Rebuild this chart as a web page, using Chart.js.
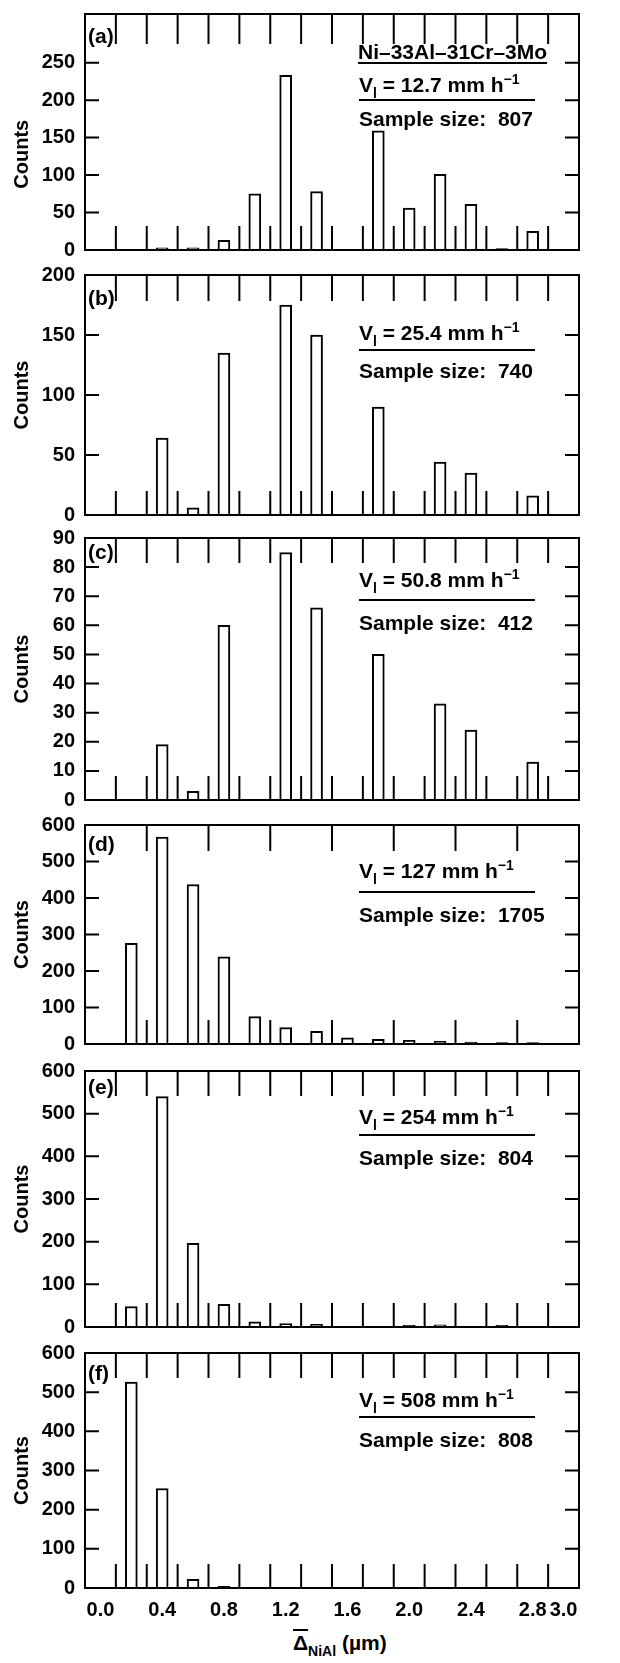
<!DOCTYPE html>
<html>
<head>
<meta charset="utf-8">
<script src="https://cdn.jsdelivr.net/npm/chart.js@4.4.1/dist/chart.umd.min.js"></script>
<style>
  body { margin: 0; background: #fff; }
  #page { position: relative; width: 620px; height: 1663px; overflow: hidden;
          font-family: "Liberation Sans", Arial, sans-serif; font-weight: bold; color: #000; }
  #page canvas { position: absolute; left: 0; }
  .txt { position: absolute; font-size: 21px; line-height: 24px; white-space: nowrap; }
  .rule { position: absolute; height: 0; border-top: 2px solid #000; }
  .sub { position: relative; top: 6px; font-size: 14px; }
  .sup { position: relative; top: -8px; font-size: 14px; }
  .uline { text-decoration: underline; text-decoration-thickness: 2px; text-underline-offset: 3px; }
</style>
</head>
<body>
<div id="page"></div>
<script>
// bin centres (um) and counts
const binCenters = [0.2, 0.4, 0.6, 0.8, 1.0, 1.2, 1.4, 1.6, 1.8, 2.0, 2.2, 2.4, 2.6, 2.8];
const countsA = [0, 3, 3, 13, 75, 233, 78, 0, 159, 56, 101, 61, 2, 25];
const countsB = [0, 64, 6, 135, 0, 175, 150, 0, 90, 0, 44, 35, 0, 16];
const countsC = [0, 19, 3, 60, 0, 85, 66, 0, 50, 0, 33, 24, 0, 13];
const countsD = [276, 567, 437, 239, 75, 45, 35, 17, 13, 10, 7, 5, 4, 4];
const countsE = [48, 540, 196, 53, 12, 8, 6, 1, 1, 4, 5, 0, 4, 0];
const countsF = [526, 254, 22, 4, 0, 1, 1, 0, 0, 2, 0, 0, 1, 0];

const yTicksA = [0, 50, 100, 150, 200, 250];
const yTicksB = [0, 50, 100, 150, 200];
const yTicksC = [0, 10, 20, 30, 40, 50, 60, 70, 80, 90];
const yTicks600 = [0, 100, 200, 300, 400, 500, 600];
const yMax = [315, 200, 90, 600, 600, 600];

const xTickValues = [0.0, 0.4, 0.8, 1.2, 1.6, 2.0, 2.4, 2.8, 3.0];
const binEdges = [0.1, 0.3, 0.5, 0.7, 0.9, 1.1, 1.3, 1.5, 1.7, 1.9, 2.1, 2.3, 2.5, 2.7, 2.9];
const binEdgesWide = [0.3, 0.7, 1.1, 1.5, 1.9, 2.3, 2.7];

const panelLetters = ['(a)', '(b)', '(c)', '(d)', '(e)', '(f)'];
const velocities = ['12.7', '25.4', '50.8', '127', '254', '508'];
const sampleSizes = ['807', '740', '412', '1705', '804', '808'];
const alloyName = 'Ni–33Al–31Cr–3Mo';

const allCounts = [countsA, countsB, countsC, countsD, countsE, countsF];
const allYTicks = [yTicksA, yTicksB, yTicksC, yTicks600, yTicks600, yTicks600];
const allEdges = [binEdges, binEdges, binEdges, binEdgesWide, binEdges, binEdges];

// page layout (pixels)
const panels = [
  { top: 14,   bottom: 250,  tickTop: 30, letterY: 36,   vY: 85,   ruleY: 100,  sampleY: 119, titleShift: 4 },
  { top: 275,  bottom: 515,  tickTop: 26, letterY: 298,  vY: 333,  ruleY: 350,  sampleY: 371, titleShift: 0 },
  { top: 538,  bottom: 800,  tickTop: 25, letterY: 552,  vY: 580,  ruleY: 600,  sampleY: 623, titleShift: 0 },
  { top: 825,  bottom: 1044, tickTop: 26, letterY: 844,  vY: 871,  ruleY: 892,  sampleY: 915, titleShift: 0 },
  { top: 1071, bottom: 1327, tickTop: 25, letterY: 1087, vY: 1117, ruleY: 1135, sampleY: 1158, titleShift: 0 },
  { top: 1353, bottom: 1588, tickTop: 25, letterY: 1373, vY: 1400, ruleY: 1417, sampleY: 1440, titleShift: 0 }
];
const plotLeft = 85, plotRight = 579, pad = 24, xAxisH = 40;
const fontFam = '"Liberation Sans", Arial, sans-serif';

// frame plus inward tick marks at bin edges and y ticks
const frameTicks = {
  id: 'frameTicks',
  afterDatasetsDraw(chart, args, opts) {
    const { ctx, chartArea: a, scales: { x, y } } = chart;
    ctx.save();
    ctx.strokeStyle = '#000';
    ctx.lineWidth = 2;
    ctx.beginPath();
    opts.edges.forEach(v => {
      const px = x.getPixelForValue(v);
      ctx.moveTo(px, a.top); ctx.lineTo(px, a.top + opts.topLen);
      ctx.moveTo(px, a.bottom); ctx.lineTo(px, a.bottom - opts.bottomLen);
    });
    y.ticks.forEach(t => {
      const py = y.getPixelForValue(t.value);
      ctx.moveTo(a.left, py); ctx.lineTo(a.left + 14, py);
      ctx.moveTo(a.right, py); ctx.lineTo(a.right - 14, py);
    });
    ctx.stroke();
    ctx.strokeRect(a.left, a.top, a.right - a.left, a.bottom - a.top);
    ctx.restore();
  }
};

const page = document.getElementById('page');

function addText(html, left, centerY, cls) {
  const d = document.createElement('div');
  d.className = 'txt' + (cls ? ' ' + cls : '');
  d.style.left = left + 'px';
  d.style.top = (centerY - 12) + 'px';
  d.innerHTML = html;
  page.appendChild(d);
  return d;
}
function addRule(left, width, y) {
  const d = document.createElement('div');
  d.className = 'rule';
  d.style.left = left + 'px';
  d.style.width = width + 'px';
  d.style.top = (y - 1) + 'px';
  page.appendChild(d);
}

panels.forEach((p, i) => {
  const last = i === panels.length - 1;
  const canvas = document.createElement('canvas');
  const h = (p.bottom - p.top) + pad + (last ? xAxisH : pad);
  canvas.width = 620;
  canvas.height = h;
  canvas.style.top = (p.top - pad) + 'px';
  page.appendChild(canvas);

  const points = binCenters
    .map((c, j) => ({ x: c, y: allCounts[i][j] }))
    .filter(pt => pt.y > 0);

  new Chart(canvas, {
    type: 'bar',
    data: {
      datasets: [{
        data: points,
        backgroundColor: '#fff',
        borderColor: '#000',
        borderWidth: 2,
        barThickness: 12,
        borderSkipped: 'bottom'
      }]
    },
    options: {
      responsive: false,
      animation: false,
      devicePixelRatio: 1,
      layout: { padding: { top: pad, bottom: last ? 0 : pad, left: 0, right: 620 - plotRight } },
      plugins: {
        legend: { display: false },
        tooltip: { enabled: false },
        frameTicks: { edges: allEdges[i], topLen: p.tickTop, bottomLen: 24 }
      },
      scales: {
        x: {
          type: 'linear',
          min: -0.1,
          max: 3.1,
          offset: false,
          display: last,
          grid: { display: false, drawTicks: false, offset: false },
          border: { display: false },
          ticks: {
            autoSkip: false,
            maxRotation: 0,
            padding: 10,
            color: '#000',
            font: { family: fontFam, size: 20, weight: 'bold' },
            callback: v => Number(v).toFixed(1)
          },
          afterBuildTicks: s => { s.ticks = xTickValues.map(v => ({ value: v })); },
          afterFit: s => { if (last) s.height = xAxisH; }
        },
        y: {
          min: 0,
          max: yMax[i],
          grid: { display: false, drawTicks: false },
          border: { display: false },
          ticks: {
            autoSkip: false,
            padding: 10,
            color: '#000',
            font: { family: fontFam, size: 20, weight: 'bold' }
          },
          title: {
            display: true,
            // trailing figure spaces nudge the rotated title down in panel (a)
            text: 'Counts' + '\u2007'.repeat(p.titleShift),
            color: '#000',
            padding: { top: 10, bottom: 0 },
            font: { family: fontFam, size: 20, weight: 'bold' }
          },
          afterBuildTicks: s => { s.ticks = allYTicks[i].map(v => ({ value: v })); },
          afterFit: s => { s.width = plotLeft; }
        }
      }
    },
    plugins: [frameTicks]
  });

  // panel annotations
  addText(panelLetters[i], 88, p.letterY);
  if (i === 0) {
    addText(alloyName, 358, 52, 'uline');
  }
  addText('V<span class="sub">l</span> = ' + velocities[i] + ' mm h<span class="sup">−1</span>', 359, p.vY);
  addRule(359, 176, p.ruleY);
  addText('Sample size:&nbsp; ' + sampleSizes[i], 359, p.sampleY);
});

// x-axis title under the last panel
addText('<span style="text-decoration:overline">Δ</span><span class="sub">NiAl</span> (µm)', 293, 1643);
</script>
</body>
</html>
